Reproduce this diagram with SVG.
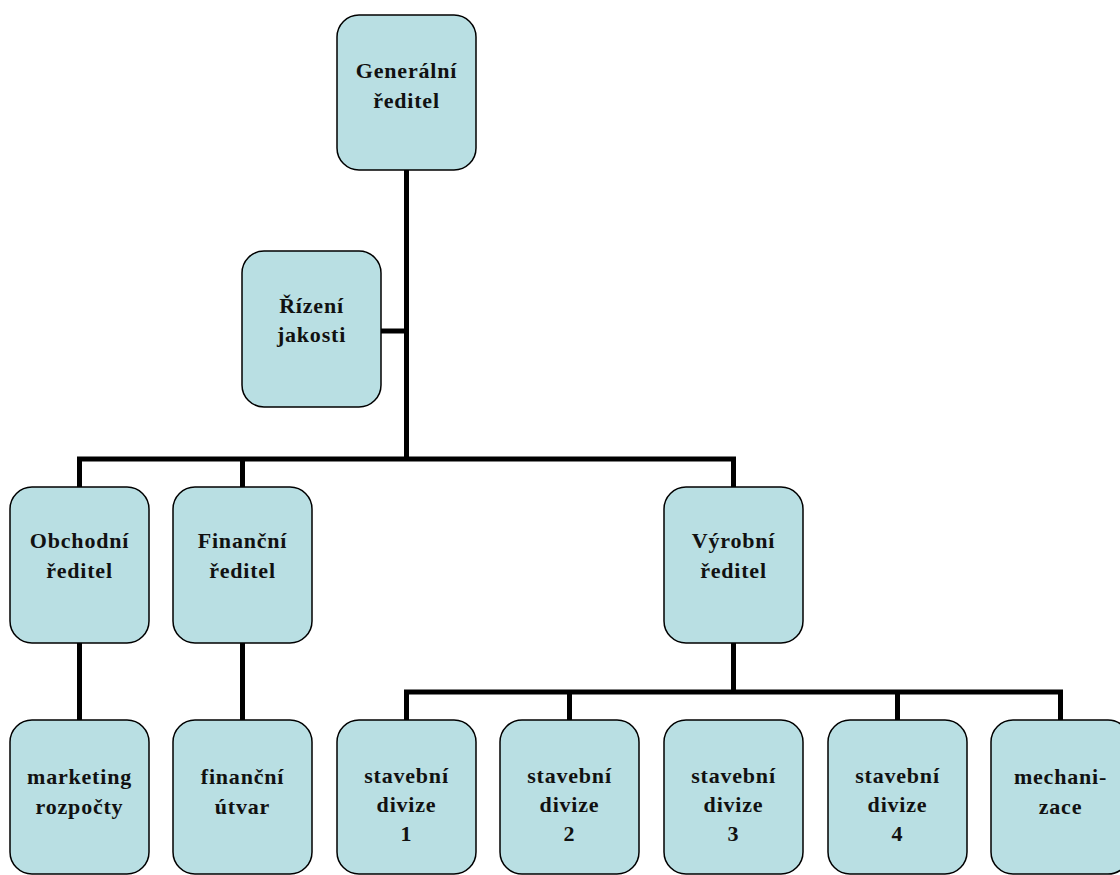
<svg xmlns="http://www.w3.org/2000/svg" width="1120" height="875" viewBox="0 0 1120 875">
<style>
.n{fill:#B9DFE3;stroke:#000;stroke-width:1.5}
.t{font-family:"Liberation Serif",serif;font-weight:bold;font-size:22px;text-anchor:middle;fill:#111;letter-spacing:0.8px}
.c{stroke:#000;stroke-width:5;fill:none}
</style>
<rect width="1120" height="875" fill="#fff"/>
<g id="connectors">
<path class="c" d="M406.5 170V459"/>
<path class="c" d="M381 331H406.5"/>
<path class="c" d="M79.5 487V459H733.5V487"/>
<path class="c" d="M242.5 459V487"/>
<path class="c" d="M79.5 643V720"/>
<path class="c" d="M242.5 643V720"/>
<path class="c" d="M733.5 643V692"/>
<path class="c" d="M406.5 720V692H1060.5V720"/>
<path class="c" d="M569.5 692V720"/>
<path class="c" d="M897.5 692V720"/>
</g>
<g id="n-generalni"><rect class="n" x="337" y="15" width="139" height="155" rx="22"/><text class="t" x="406.5"><tspan x="406.5" y="78">Generální</tspan><tspan x="406.5" y="108">ředitel</tspan></text></g>
<g id="n-rizeni"><rect class="n" x="242" y="251" width="139" height="156" rx="22"/><text class="t"><tspan x="311.5" y="313">Řízení</tspan><tspan x="311.5" y="342">jakosti</tspan></text></g>
<g id="n-obchodni"><rect class="n" x="10" y="487" width="139" height="156" rx="22"/><text class="t"><tspan x="79.5" y="548">Obchodní</tspan><tspan x="79.5" y="578">ředitel</tspan></text></g>
<g id="n-financni"><rect class="n" x="173" y="487" width="139" height="156" rx="22"/><text class="t"><tspan x="242.5" y="548">Finanční</tspan><tspan x="242.5" y="578">ředitel</tspan></text></g>
<g id="n-vyrobni"><rect class="n" x="664" y="487" width="139" height="156" rx="22"/><text class="t"><tspan x="733.5" y="548">Výrobní</tspan><tspan x="733.5" y="578">ředitel</tspan></text></g>
<g id="n-marketing"><rect class="n" x="10" y="720" width="139" height="154" rx="22"/><text class="t"><tspan x="79.5" y="784">marketing</tspan><tspan x="79.5" y="814">rozpočty</tspan></text></g>
<g id="n-utvar"><rect class="n" x="173" y="720" width="139" height="154" rx="22"/><text class="t"><tspan x="242.5" y="784">finanční</tspan><tspan x="242.5" y="814">útvar</tspan></text></g>
<g id="n-div1"><rect class="n" x="337" y="720" width="139" height="154" rx="22"/><text class="t"><tspan x="406.5" y="783">stavební</tspan><tspan x="406.5" y="812">divize</tspan><tspan x="406.5" y="841">1</tspan></text></g>
<g id="n-div2"><rect class="n" x="500" y="720" width="139" height="154" rx="22"/><text class="t"><tspan x="569.5" y="783">stavební</tspan><tspan x="569.5" y="812">divize</tspan><tspan x="569.5" y="841">2</tspan></text></g>
<g id="n-div3"><rect class="n" x="664" y="720" width="139" height="154" rx="22"/><text class="t"><tspan x="733.5" y="783">stavební</tspan><tspan x="733.5" y="812">divize</tspan><tspan x="733.5" y="841">3</tspan></text></g>
<g id="n-div4"><rect class="n" x="828" y="720" width="139" height="154" rx="22"/><text class="t"><tspan x="897.5" y="783">stavební</tspan><tspan x="897.5" y="812">divize</tspan><tspan x="897.5" y="841">4</tspan></text></g>
<g id="n-mech"><rect class="n" x="991" y="720" width="139" height="154" rx="22"/><text class="t"><tspan x="1060.5" y="784">mechani-</tspan><tspan x="1060.5" y="814">zace</tspan></text></g>
</svg>
